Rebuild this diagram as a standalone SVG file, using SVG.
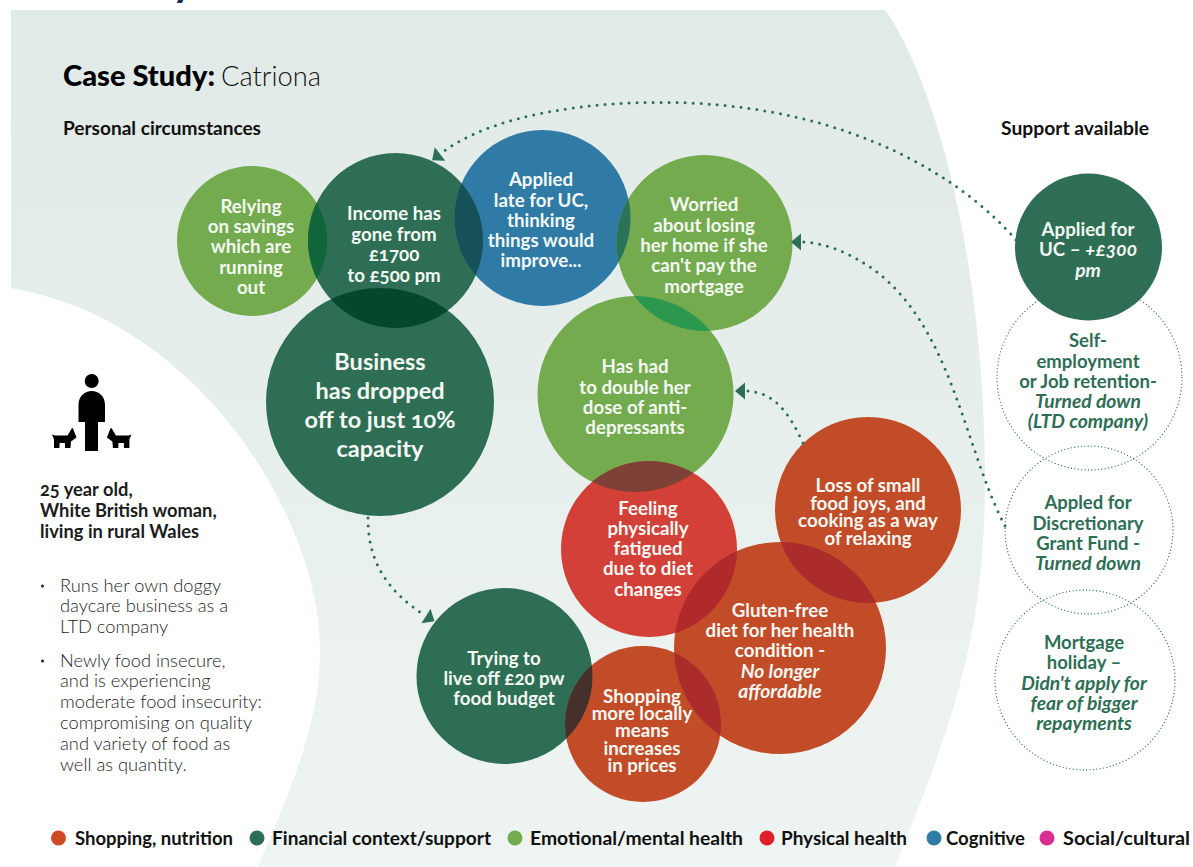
<svg xmlns="http://www.w3.org/2000/svg" xmlns:xlink="http://www.w3.org/1999/xlink" width="1193" height="867" viewBox="0 0 1193 867">
<style>
text{font-family:"Lato","Liberation Sans",sans-serif;font-variant-numeric:oldstyle-nums}
.w text,.w{fill:#f4f8f3;font-weight:700;font-size:18.700px;text-anchor:middle}
.w text,.g text,.h{transform:translateY(1px)}
.w .big{font-size:23.500px;transform:none}
.w .i{font-size:19.300px;font-style:italic}
.g{fill:#2e6e55;font-weight:700;font-size:18.500px;text-anchor:middle}
.g .i{font-size:19.300px;font-style:italic}
.dk{fill:#2e6e55}.lg{fill:#73ab4e}.bl{fill:#2f7ba6}.rd{fill:#c24c28}.ph{fill:#d34037}
.ring{fill:none;stroke:#2e6e55;stroke-width:1.300;stroke-dasharray:0 3.400;stroke-linecap:round}
.arrow{fill:none;stroke:#2e6e55;stroke-width:3;stroke-linecap:round;stroke-dasharray:0 8}
.h{fill:#111;font-weight:700;font-size:18.700px}
.b{fill:#262626;font-weight:300;font-size:18.300px}
.p{fill:#1c1c1c;font-weight:700;font-size:18.300px}
.l{fill:#111;font-weight:700;font-size:18.700px}
</style>
<defs>
<linearGradient id="bg" x1="0" y1="0" x2="0" y2="1"><stop offset="0" stop-color="#e0eae7"/><stop offset="1" stop-color="#eef4f2"/></linearGradient>
<marker id="head" markerUnits="userSpaceOnUse" markerWidth="12" markerHeight="18" refX="0" refY="8.500" orient="auto" overflow="visible"><path d="M0,0L10,8.500L0,17Z" fill="#2e6e55"/></marker>
<path id="dog" d="M0,6.500L3,7.500H15.500L20,0L21,0.500L24.500,9.500L19,13.500L18.500,20H13V15H7.500V20H2V11.500Z" fill="#000"/>
<clipPath id="cIncome"><circle cx="395.500" cy="240.500" r="87.500"/></clipPath>
<clipPath id="cApplied"><circle cx="542.500" cy="218" r="88"/></clipPath>
<clipPath id="cWorried"><circle cx="704.500" cy="243" r="88"/></clipPath>
<clipPath id="cB"><circle cx="380" cy="402" r="114"/></clipPath>
<clipPath id="cHas"><circle cx="635.500" cy="394" r="98"/></clipPath>
<clipPath id="cFeeling"><circle cx="649" cy="549" r="88"/></clipPath>
<clipPath id="cGluten"><circle cx="780" cy="648" r="106"/></clipPath>
<clipPath id="cS"><circle cx="643" cy="724" r="78"/></clipPath>
</defs>
<g id="background">
<rect width="1193" height="867" fill="#fff"/>
<path d="M11,10H885C935,80 985,260 985,480C985,640 950,730 895,867H258C285,800 320,730 320,650C320,520 200,320 11,288Z" fill="url(#bg)"/>
</g>
<text x="172" y="-4" font-size="42" font-weight="700" fill="#0e3050">y</text>
<g id="heading">
<text x="63" y="86" font-size="28.500" font-weight="900" fill="#000" textLength="152" lengthAdjust="spacingAndGlyphs">Case Study:</text>
<text x="221" y="86" font-size="27" font-weight="300" fill="#111" textLength="100" lengthAdjust="spacingAndGlyphs">Catriona</text>
<text class="h" x="63" y="134" textLength="198" lengthAdjust="spacingAndGlyphs">Personal circumstances</text>
<text class="h" x="1001" y="134" textLength="148" lengthAdjust="spacingAndGlyphs">Support available</text>
</g>
<g id="person">
<circle cx="91.700" cy="381" r="7"/>
<path d="M78.500,422V405C78.500,396 85,391 91.700,391C98.500,391 105,396 105,405V422H98V451H85V422Z"/>
<use xlink:href="#dog" href="#dog" x="52" y="428"/>
<use xlink:href="#dog" href="#dog" transform="translate(183.400,0) scale(-1,1)" x="52" y="428"/>
</g>
<g id="profile">
<text class="p" x="40" y="496">25 year old,</text>
<text class="p" x="40" y="517">White British woman,</text>
<text class="p" x="40" y="538">living in rural Wales</text>
<circle cx="42.500" cy="586" r="1.500" fill="#222"/>
<text class="b" x="60" y="592">Runs her own doggy</text>
<text class="b" x="60" y="612">daycare business as a</text>
<text class="b" x="60" y="633">LTD company</text>
<circle cx="42.500" cy="661" r="1.500" fill="#222"/>
<text class="b" x="60" y="667">Newly food insecure,</text>
<text class="b" x="60" y="687">and is experiencing</text>
<text class="b" x="60" y="708">moderate food insecurity:</text>
<text class="b" x="60" y="729">compromising on quality</text>
<text class="b" x="60" y="750">and variety of food as</text>
<text class="b" x="60" y="771">well as quantity.</text>
</g>
<g id="node-relying" class="w">
<circle class="lg" cx="252" cy="241" r="75"/>
<text x="251" y="212">Relying</text><text x="251" y="232">on savings</text><text x="251" y="252">which are</text><text x="251" y="273">running</text><text x="251" y="293">out</text>
</g>
<g id="node-income" class="w">
<circle class="dk" cx="395.500" cy="240.500" r="87.500"/>
<circle cx="252" cy="241" r="75" fill="#10653a" clip-path="url(#cIncome)"/>
<text x="394" y="219">Income has</text><text x="394" y="240">gone from</text><text x="394" y="260">£1700</text><text x="394" y="281">to £500 pm</text>
</g>
<g id="node-applied-late" class="w">
<circle class="bl" cx="542.500" cy="218" r="88"/>
<circle cx="395.500" cy="240.500" r="87.500" fill="#165058" clip-path="url(#cApplied)"/>
<text x="541" y="185">Applied</text><text x="541" y="206">late for UC,</text><text x="541" y="226">thinking</text><text x="541" y="246">things would</text><text x="541" y="266">improve...</text>
</g>
<g id="node-worried" class="w">
<circle class="lg" cx="704.500" cy="243" r="88"/>
<circle cx="542.500" cy="218" r="88" fill="#2b7358" clip-path="url(#cWorried)"/>
<text x="704" y="210">Worried</text><text x="704" y="231">about losing</text><text x="704" y="251">her home if she</text><text x="704" y="271">can't pay the</text><text x="704" y="292">mortgage</text>
</g>
<g id="node-business" class="w">
<circle class="dk" cx="380" cy="402" r="114"/>
<circle cx="395.500" cy="240.500" r="87.500" fill="#03472d" clip-path="url(#cB)"/>
<text class="big" x="380" y="370">Business</text><text class="big" x="380" y="399">has dropped</text><text class="big" x="380" y="428">off to just 10%</text><text class="big" x="380" y="457">capacity</text>
</g>
<g id="node-has-had" class="w">
<circle class="lg" cx="635.500" cy="394" r="98"/>
<circle cx="704.500" cy="243" r="88" fill="#2c984f" clip-path="url(#cHas)"/>
<text x="635" y="372">Has had</text><text x="635" y="393">to double her</text><text x="635" y="413">dose of anti-</text><text x="635" y="433">depressants</text>
</g>
<g id="node-loss" class="w">
<circle class="rd" cx="868" cy="510" r="93"/>
<text x="868" y="491">Loss of small</text><text x="868" y="509">food joys, and</text><text x="868" y="526">cooking as a way</text><text x="868" y="544">of relaxing</text>
</g>
<g id="node-feeling" class="w">
<circle class="ph" cx="649" cy="549" r="88"/>
<circle cx="635.500" cy="394" r="98" fill="#7d4135" clip-path="url(#cFeeling)"/>
<text x="648" y="514">Feeling</text><text x="648" y="534">physically</text><text x="648" y="554">fatigued</text><text x="648" y="574">due to diet</text><text x="648" y="595">changes</text>
</g>
<g id="node-gluten" class="w">
<circle class="rd" cx="780" cy="648" r="106"/>
<circle cx="649" cy="549" r="88" fill="#b02a2c" clip-path="url(#cGluten)"/>
<circle cx="868" cy="510" r="93" fill="#ab2c2b" clip-path="url(#cGluten)"/>
<text x="780" y="616">Gluten-free</text><text x="780" y="636">diet for her health</text><text x="780" y="656">condition -</text><text class="i" x="780" y="677">No longer</text><text class="i" x="780" y="697">affordable</text>
</g>
<g id="node-trying" class="w">
<circle class="dk" cx="504.500" cy="676" r="88"/>
<text x="504" y="664">Trying to</text><text x="504" y="684">live off £20 pw</text><text x="504" y="704">food budget</text>
</g>
<g id="node-shopping" class="w">
<circle class="rd" cx="643" cy="724" r="78"/>
<circle cx="504.500" cy="676" r="88" fill="#46302c" clip-path="url(#cS)"/>
<circle cx="780" cy="648" r="106" fill="#ab2c2b" clip-path="url(#cS)"/>
<text x="642" y="702">Shopping</text><text x="642" y="719">more locally</text><text x="642" y="736">means</text><text x="642" y="754">increases</text><text x="642" y="771">in prices</text>
</g>
<g id="node-uc" class="w">
<circle class="dk" cx="1088.500" cy="247" r="73.500"/>
<text x="1088" y="235">Applied for</text><text x="1088" y="255">UC – <tspan class="i">+£300</tspan></text><text class="i" x="1088" y="276">pm</text>
</g>
<g id="node-self">
<circle class="ring" cx="1089.500" cy="377.500" r="92.500"/>
<g class="g"><text x="1088" y="346">Self-</text><text x="1088" y="367">employment</text><text x="1088" y="387">or Job retention-</text><text class="i" x="1088" y="407">Turned down</text><text class="i" x="1088" y="427">(LTD company)</text></g>
</g>
<g id="node-grant">
<circle class="ring" cx="1089" cy="530" r="84"/>
<g class="g"><text x="1088" y="508">Appled for</text><text x="1088" y="529">Discretionary</text><text x="1088" y="549">Grant Fund -</text><text class="i" x="1088" y="569">Turned down</text></g>
</g>
<g id="node-mortgage">
<circle class="ring" cx="1085" cy="680" r="90"/>
<g class="g"><text x="1084" y="648">Mortgage</text><text x="1084" y="668">holiday –</text><text class="i" x="1084" y="689">Didn't apply for</text><text class="i" x="1084" y="709">fear of bigger</text><text class="i" x="1084" y="729">repayments</text></g>
</g>
<g id="connectors">
<path class="arrow" marker-end="url(#head)" d="M1016,240C960,175 850,110 690,103C590,99 490,115 440,154"/>
<path class="arrow" marker-end="url(#head)" d="M1005,526C960,440 950,300 845,253C830,246 815,242 801,242"/>
<path class="arrow" marker-end="url(#head)" d="M803,443C790,415 775,391 745,391"/>
<path class="arrow" marker-end="url(#head)" d="M368,518C368,560 385,590 426,616"/>
</g>
<g id="legend">
<circle cx="58.500" cy="838" r="7.500" fill="#d14a26"/><text class="l" x="75" y="845" textLength="158" lengthAdjust="spacingAndGlyphs">Shopping, nutrition</text>
<circle cx="257" cy="838" r="7.500" fill="#2e6e55"/><text class="l" x="272" y="845" textLength="219" lengthAdjust="spacingAndGlyphs">Financial context/support</text>
<circle cx="515" cy="838" r="7.500" fill="#73ab4e"/><text class="l" x="530" y="845" textLength="213" lengthAdjust="spacingAndGlyphs">Emotional/mental health</text>
<circle cx="767" cy="838" r="7.500" fill="#e01f2d"/><text class="l" x="781" y="845" textLength="126" lengthAdjust="spacingAndGlyphs">Physical health</text>
<circle cx="934" cy="838" r="7.500" fill="#2f7ba6"/><text class="l" x="946" y="845" textLength="79" lengthAdjust="spacingAndGlyphs">Cognitive</text>
<circle cx="1047" cy="838" r="7.500" fill="#d92e8f"/><text class="l" x="1063" y="845" textLength="127" lengthAdjust="spacingAndGlyphs">Social/cultural</text>
</g>
</svg>
